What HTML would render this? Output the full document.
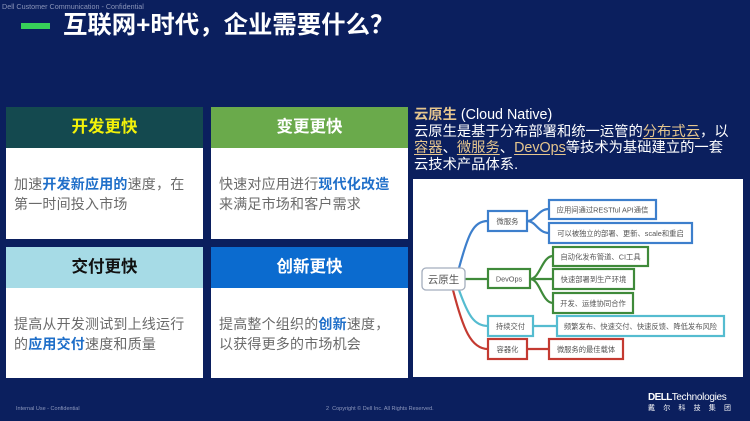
<!DOCTYPE html>
<html><head><meta charset="utf-8">
<style>
*{margin:0;padding:0;box-sizing:border-box}
body{width:750px;height:421px;background:#0b1f5e;position:relative;overflow:hidden;font-family:"Liberation Sans","Noto Sans CJK SC",sans-serif}
.abs{position:absolute}
.card{position:absolute;width:197px;background:#fff}
.hd{height:41px;line-height:41px;text-align:center;font-size:16.5px;font-weight:700;font-family:"Liberation Sans","Noto Sans CJK SC",sans-serif}
.bd{padding:27px 0 0 8px;font-size:14px;line-height:19.5px;color:#6a6a6a;white-space:nowrap;letter-spacing:0.2px}
.bd b{color:#1f6fc9;font-weight:700}
.rt{left:414px;top:107px;font-size:14.3px;line-height:16.5px;color:#fff;white-space:nowrap}
.rt u{color:#e6c68e;text-decoration:underline;text-underline-offset:2px}
</style></head>
<body>
<div class="abs" style="left:2px;top:2px;font-size:7.2px;color:#8a94b8;white-space:nowrap">Dell Customer Communication - Confidential</div>
<div class="abs" style="left:21px;top:23px;width:29px;height:6px;background:#37d159"></div>
<div class="abs" style="left:63px;top:12px;height:28px;line-height:28px;font-size:24.4px;font-weight:700;color:#fff;white-space:nowrap">互联网+时代，企业需要什么？</div>

<div class="card" style="left:6px;top:107px;height:132px">
  <div class="hd" style="background:#14494f;color:#f2f20a">开发更快</div>
  <div class="bd">加速<b>开发新应用的</b>速度，在<br>第一时间投入市场</div>
</div>
<div class="card" style="left:211px;top:107px;height:132px">
  <div class="hd" style="background:#6aaa4b;color:#fff">变更更快</div>
  <div class="bd">快速对应用进行<b>现代化改造</b><br>来满足市场和客户需求</div>
</div>
<div class="card" style="left:6px;top:247px;height:131px">
  <div class="hd" style="background:#a6dbe6;color:#111">交付更快</div>
  <div class="bd">提高从开发测试到上线运行<br>的<b>应用交付</b>速度和质量</div>
</div>
<div class="card" style="left:211px;top:247px;height:131px">
  <div class="hd" style="background:#0b6bcf;color:#fff">创新更快</div>
  <div class="bd">提高整个组织的<b>创新</b>速度，<br>以获得更多的市场机会</div>
</div>

<div class="abs rt"><b style="color:#e6c68e">云原生</b> (Cloud Native)<br>云原生是基于分布部署和统一运管的<u>分布式云</u>，以<br><u>容器</u>、<u>微服务</u>、<u>DevOps</u>等技术为基础建立的一套<br>云技术产品体系.</div>

<svg class="abs" style="left:413px;top:179px" width="330" height="198" viewBox="0 0 330 198">
  <rect x="0" y="0" width="330" height="198" fill="#fff"/>
  <g fill="none" stroke-width="2.2" stroke-linecap="round">
    <path d="M46 89 C55 56 60 42 75 42" stroke="#3d7fcc"/>
    <path d="M52 100 L75 100" stroke="#3f8a3a"/>
    <path d="M46 111 C55 136 61 147 75 147" stroke="#55bcd0"/>
    <path d="M40 111 C50 150 58 170 75 170" stroke="#c43a31"/>
    <path d="M114 42 C123 42 125 30 136 30 M114 42 C123 42 125 54 136 54" stroke="#3d7fcc"/>
    <path d="M117 100 C127 100 129 77 140 77 M117 100 L140 100 M117 100 C127 100 129 124 140 124" stroke="#3f8a3a"/>
    <path d="M120 147 L144 147" stroke="#55bcd0"/>
    <path d="M114 170 L136 170" stroke="#c43a31"/>
  </g>
  <rect x="9" y="89" width="43" height="22" rx="4" fill="#fff" stroke="#a3adbd" stroke-width="1.3"/>
  <g fill="#fff" stroke-width="2.2">
    <rect x="75" y="32" width="39" height="20" stroke="#3d7fcc"/>
    <rect x="136" y="21" width="107" height="19" stroke="#3d7fcc"/>
    <rect x="136" y="44" width="143" height="20" stroke="#3d7fcc"/>
    <rect x="75" y="90" width="42" height="19" stroke="#3f8a3a"/>
    <rect x="140" y="68" width="95" height="19" stroke="#3f8a3a"/>
    <rect x="140" y="90" width="81" height="20" stroke="#3f8a3a"/>
    <rect x="140" y="114" width="80" height="20" stroke="#3f8a3a"/>
    <rect x="75" y="137" width="45" height="20" stroke="#55bcd0"/>
    <rect x="144" y="137" width="167" height="20" stroke="#55bcd0"/>
    <rect x="75" y="160" width="39" height="20" stroke="#c43a31"/>
    <rect x="136" y="160" width="74" height="20" stroke="#c43a31"/>
  </g>
  <g font-family="Liberation Sans, Noto Sans CJK SC, sans-serif" fill="#555" text-anchor="middle">
    <text x="30.5" y="104" font-size="10.5">云原生</text>
    <g font-size="7.3">
      <text x="94.5" y="45">微服务</text>
      <text x="189.5" y="33.5">应用间通过RESTful API通信</text>
      <text x="207.5" y="57">可以被独立的部署、更新、scale和重启</text>
      <text x="96" y="102.5">DevOps</text>
      <text x="187.5" y="80.5">自动化发布管道、CI工具</text>
      <text x="180.5" y="103">快速部署到生产环境</text>
      <text x="180" y="127">开发、运维协同合作</text>
      <text x="97.5" y="150">持续交付</text>
      <text x="227.5" y="150">频繁发布、快速交付、快速反馈、降低发布风险</text>
      <text x="94.5" y="173">容器化</text>
      <text x="173" y="173">微服务的最佳载体</text>
    </g>
  </g>
</svg>

<div class="abs" style="left:16px;top:406px;font-size:5.5px;color:#8d98bd;white-space:nowrap">Internal Use - Confidential</div>
<div class="abs" style="left:326px;top:406px;font-size:5.5px;color:#8d98bd;white-space:nowrap">2&nbsp;&nbsp;Copyright © Dell Inc. All Rights Reserved.</div>
<div class="abs" style="left:648px;top:392px;font-size:10px;line-height:12px;color:#fff;white-space:nowrap;letter-spacing:-0.3px"><b style="letter-spacing:-0.6px">DELL</b>Technologies</div>
<div class="abs" style="left:648px;top:405px;font-size:7px;line-height:8px;color:#fff;white-space:nowrap;letter-spacing:8.2px">戴尔科技集团</div>
</body></html>
